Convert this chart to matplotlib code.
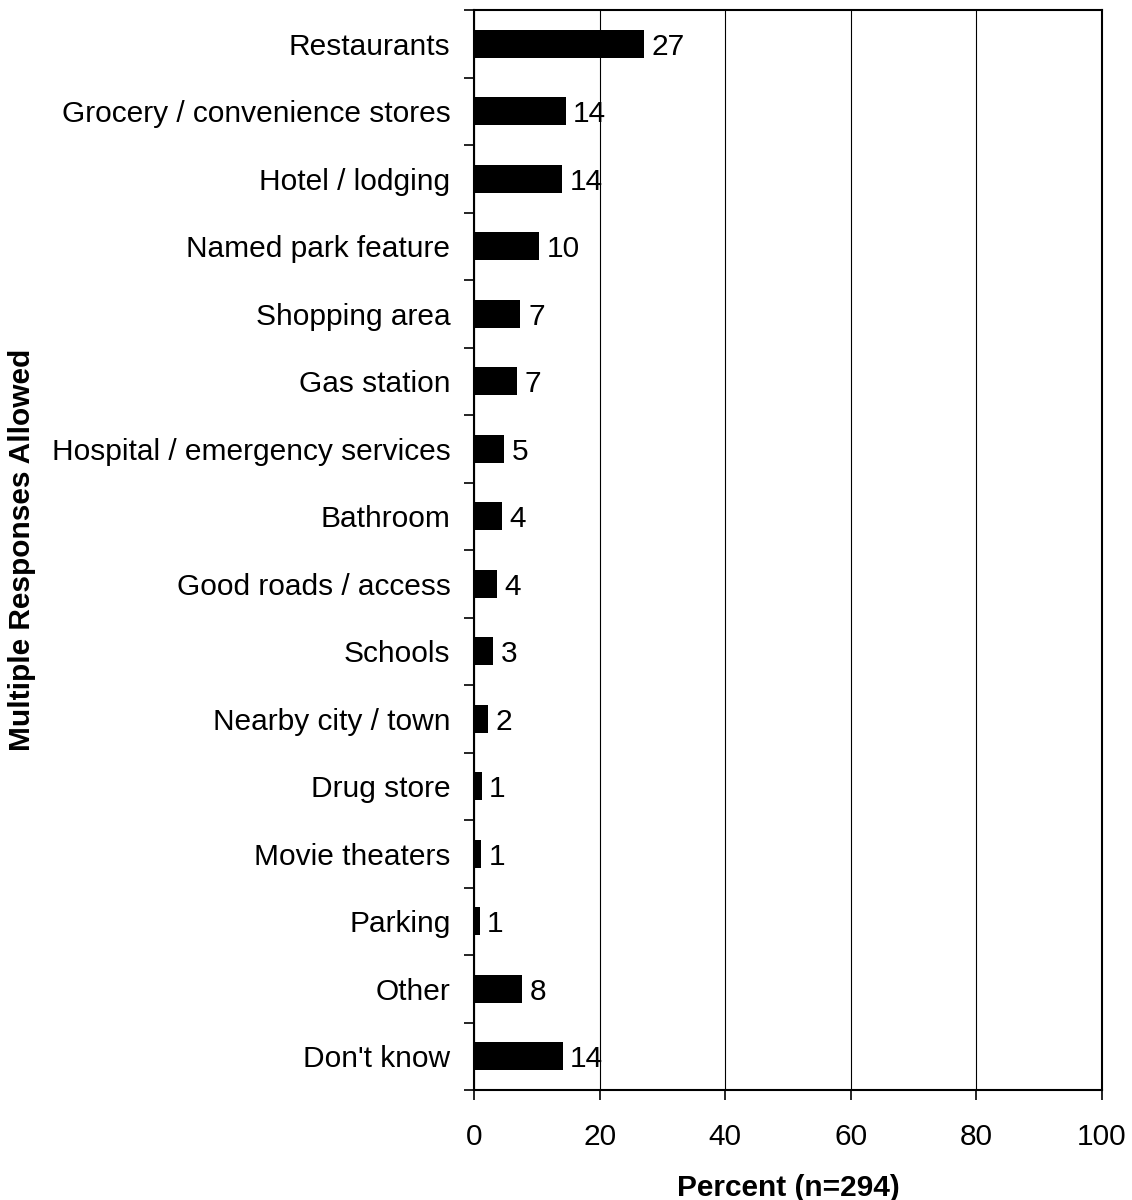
import matplotlib
matplotlib.use("Agg")
import matplotlib.pyplot as plt
import numpy as np

categories = ["Restaurants", "Grocery / convenience stores", "Hotel / lodging",
              "Named park feature", "Shopping area", "Gas station",
              "Hospital / emergency services", "Bathroom", "Good roads / access",
              "Schools", "Nearby city / town", "Drug store", "Movie theaters",
              "Parking", "Other", "Don't know"]
values = [27.0, 14.6, 14.0, 10.4, 7.4, 6.9, 4.8, 4.4, 3.7, 3.0, 2.3, 1.2, 1.1, 0.9, 7.7, 14.1]
labels = ["27", "14", "14", "10", "7", "7", "5", "4", "4", "3", "2", "1", "1", "1", "8", "14"]
xticks = [0, 20, 40, 60, 80, 100]

plt.rcParams['font.family'] = ['Liberation Sans', 'DejaVu Sans']
FS = 21.5

fig = plt.figure(figsize=(11.32, 12), dpi=100)
ax = fig.add_axes([474/1132, 1-1090/1200, 628/1132, 1080/1200])

y = np.arange(len(categories))
ax.barh(y, values, height=0.42, color='black', zorder=3)
for yi, v, lab in zip(y, values, labels):
    ax.text(v + 1.2, yi, lab, va='center_baseline', ha='left', fontsize=FS, zorder=4)

ax.set_xlim(0, 100)
ax.set_ylim(len(categories) - 0.5, -0.5)
ax.set_xticks(xticks)
ax.set_xticklabels([str(t) for t in xticks], fontsize=FS)
ax.set_yticks(y)
ax.set_yticklabels(categories, fontsize=FS, va='center_baseline')
ax.set_yticks(np.arange(len(categories) + 1) - 0.5, minor=True)
ax.tick_params(axis='y', which='major', length=0, pad=17)
ax.tick_params(axis='y', which='minor', length=7, width=1.2, direction='out')
ax.tick_params(axis='x', which='major', length=7, width=1.2, direction='out', pad=17)
ax.grid(axis='x', color='black', linewidth=0.8, zorder=0)
for s in ax.spines.values():
    s.set_linewidth(1.5)

ax.set_xlabel("Percent (n=294)", fontsize=FS, fontweight='bold', labelpad=16)
fig.text(22/1132, 1-550/1200, "Multiple Responses Allowed", rotation=90,
         va='center', ha='center', fontsize=FS, fontweight='bold')

fig.savefig("out.png", dpi=100)
